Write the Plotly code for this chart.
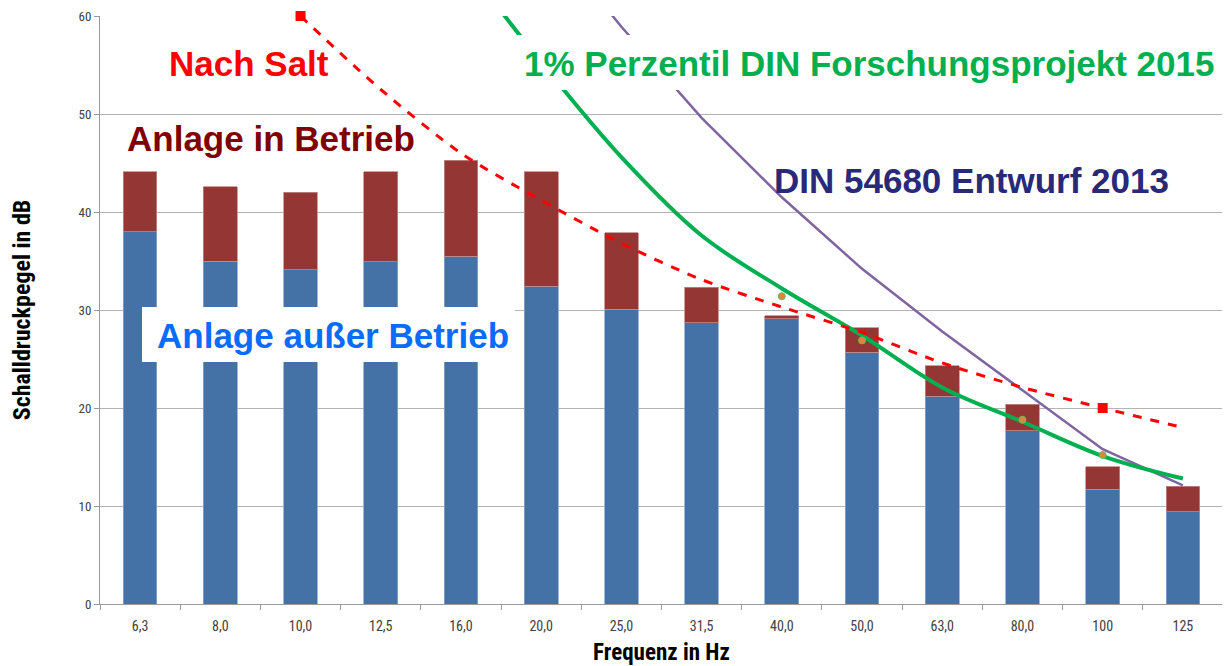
import plotly.graph_objects as go

# ---------------- data ----------------
categories = ["6,3", "8,0", "10,0", "12,5", "16,0", "20,0", "25,0", "31,5",
              "40,0", "50,0", "63,0", "80,0", "100", "125"]
anlage_ausser_betrieb = [38.0, 35.0, 34.1, 34.9, 35.5, 32.4, 30.1, 28.7,
                         29.1, 25.7, 21.2, 17.7, 11.7, 9.4]
anlage_in_betrieb = [44.1, 42.6, 42.0, 44.1, 45.3, 44.1, 37.9, 32.3,
                     29.4, 28.2, 24.3, 20.4, 14.0, 12.0]
nach_salt = [None, None, 60.0, 52.5, 46.0, 41.2, 36.8, 33.1,
             30.3, 27.7, 24.6, 22.1, 20.0, 18.0]
salt_marker_points = [None, None, 60.0, None, None, None, None, None,
                      None, None, None, None, 20.0, None]
perzentil_1 = [None, None, None, None, 65.8, 55.3, 45.6, 37.6,
               32.2, 27.4, 22.1, 18.6, 15.1, 12.8]
messpunkte = [None, None, None, None, None, None, None, None,
              31.4, 26.9, None, 18.8, 15.2, None]
din_entwurf_2013 = [None, None, None, None, None, 69.0, 58.9, 49.6,
                    41.5, 34.2, 27.8, 21.8, 15.8, 12.1]
y_ticks = [0, 10, 20, 30, 40, 50, 60]

# difference stacked on top of the "außer Betrieb" level
zuwachs = [b - a for a, b in zip(anlage_ausser_betrieb, anlage_in_betrieb)]

# ---------------- figure ----------------
# the page body has an 8px margin, so the figure is drawn 8px in from the top-left
OFF = 8
W, H = 1230 - OFF, 666 - OFF
L, R, T, B = 100 - OFF, 7, 16 - OFF, 62
pw, ph = W - L - R, H - T - B


def px(x):  # page pixel -> paper x
    return (x - OFF - L) / pw


def py(y):  # page pixel -> paper y
    return (H - B - (y - OFF)) / ph


fig = go.Figure()
fig.add_trace(go.Bar(x=categories, y=anlage_ausser_betrieb, name="Anlage außer Betrieb",
                     marker=dict(color="#4471a6", line=dict(color="#8aa6cc", width=0.8)),
                     width=0.42))
fig.add_trace(go.Bar(x=categories, y=zuwachs, name="Anlage in Betrieb",
                     marker=dict(color="#933634", line=dict(color="#c08a88", width=0.8)),
                     width=0.42))
fig.add_trace(go.Scatter(x=categories, y=din_entwurf_2013, mode="lines",
                         line=dict(color="#8064a2", width=2.5)))
fig.add_trace(go.Scatter(x=categories, y=perzentil_1, mode="lines",
                         line=dict(color="#00b050", width=4, shape="spline", smoothing=1.0)))
fig.add_trace(go.Scatter(x=categories, y=messpunkte, mode="markers",
                         marker=dict(color="#d9883a", size=7, line=dict(color="#5fbf5f", width=1))))
fig.add_trace(go.Scatter(x=categories, y=nach_salt, mode="lines",
                         line=dict(color="#ff0000", width=3, dash="dash", shape="spline",
                                   smoothing=0.8)))
fig.add_trace(go.Scatter(x=categories, y=salt_marker_points, mode="markers", cliponaxis=False,
                         marker=dict(color="#ff0000", size=10, symbol="square")))

# white label backgrounds
fig.add_shape(type="rect", xref="paper", yref="paper", layer="above",
              x0=px(142), x1=px(515), y0=py(362), y1=py(307),
              fillcolor="white", line=dict(width=0))
fig.add_shape(type="rect", xref="paper", yref="paper", layer="above",
              x0=px(508), x1=1.0, y0=py(90), y1=py(35),
              fillcolor="white", line=dict(width=0))

lab_font = "Liberation Sans, Arial, sans-serif"
labels = [
    ("Nach Salt", 167, 63, "#ff0000"),
    ("Anlage in Betrieb", 125, 139, "#800000"),
    ("Anlage außer Betrieb", 155, 336, "#0a6cff"),
    ("1% Perzentil DIN Forschungsprojekt 2015", 522, 63, "#00b050"),
    ("DIN 54680 Entwurf 2013", 772, 180, "#29297a"),
]
for txt, x, y, col in labels:
    fig.add_annotation(text="<b>%s</b>" % txt, xref="paper", yref="paper",
                       x=px(x), y=py(y), xanchor="left", yanchor="middle",
                       showarrow=False, font=dict(family=lab_font, size=35, color=col))

axis_font = "Liberation Sans Narrow, Roboto Condensed, Liberation Sans, sans-serif"
fig.update_layout(
    width=W, height=H, barmode="stack", showlegend=False,
    margin=dict(l=L, r=R, t=T, b=B, autoexpand=False),
    paper_bgcolor="white", plot_bgcolor="white",
    xaxis=dict(type="category", range=[-0.5, len(categories) - 0.5], autorange=False,
               automargin=False,
               showgrid=False, showline=True, linecolor="#9a9a9a",
               linewidth=1, ticks="outside", tickson="boundaries", ticklen=5,
               tickcolor="#9a9a9a", ticklabelstandoff=9,
               tickfont=dict(family=axis_font, size=14, color="#404040"),
               title=dict(text="<b>Frequenz in Hz</b>", standoff=11,
                          font=dict(family=axis_font, size=23, color="#000000"))),
    yaxis=dict(range=[0, 60], autorange=False, automargin=False, tickvals=y_ticks,
               showgrid=True, gridcolor="#b3b3b3",
               gridwidth=1, showline=True, linecolor="#9a9a9a", linewidth=1,
               ticks="outside", ticklen=5, tickcolor="#9a9a9a", zeroline=False,
               ticklabeloverflow="allow",
               tickfont=dict(family=axis_font, size=13, color="#404040"),
               title=dict(text="<b>Schalldruckpegel in dB</b>", standoff=42,
                          font=dict(family=axis_font, size=24, color="#000000"))),
)

fig.write_html("out.html")
